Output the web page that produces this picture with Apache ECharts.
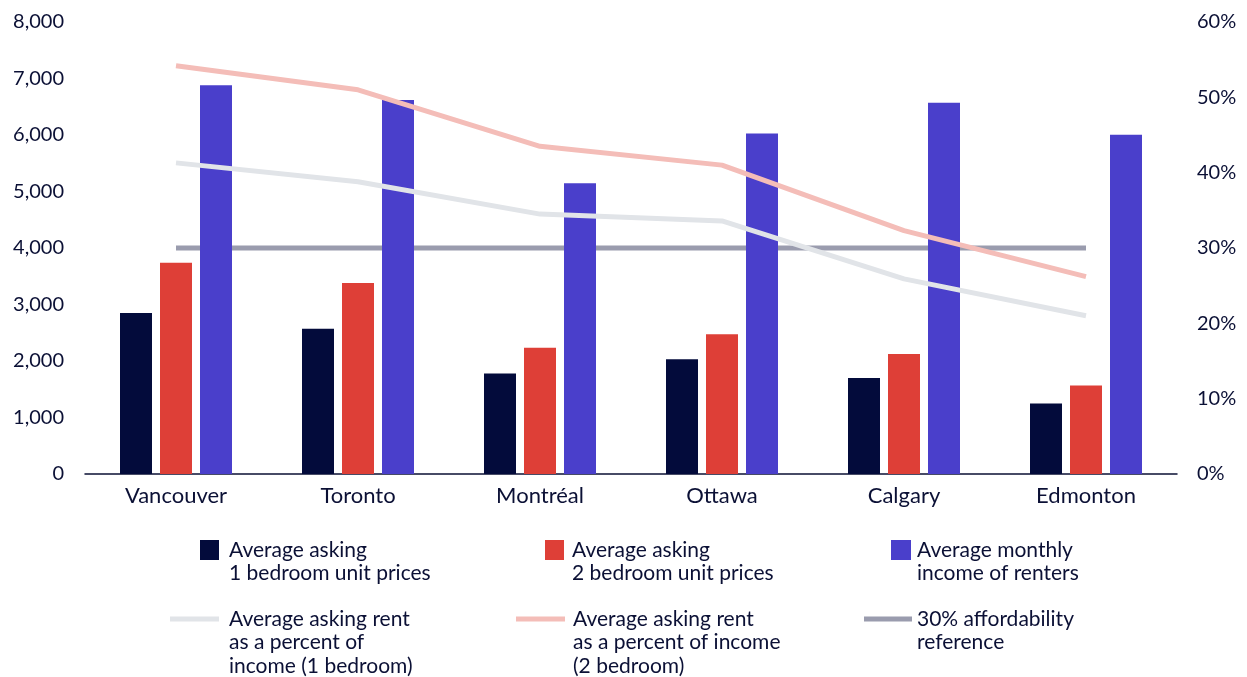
<!DOCTYPE html>
<html>
<head>
<meta charset="utf-8">
<script src="https://cdn.jsdelivr.net/npm/echarts@6/dist/echarts.min.js"></script>
<style>
  html, body { margin: 0; padding: 0; background: #fff; }
  #main { width: 1247px; height: 677px; }
</style>
</head>
<body>
<div id="main"></div>
<script>
var cities = ['Vancouver', 'Toronto', 'Montréal', 'Ottawa', 'Calgary', 'Edmonton'];
var oneBedPrice = [2850, 2570, 1780, 2030, 1700, 1250];
var twoBedPrice = [3740, 3380, 2235, 2475, 2125, 1565];
var renterIncome = [6880, 6620, 5145, 6025, 6570, 6005];
var oneBedPct = [41.3, 38.8, 34.5, 33.6, 25.9, 21.0];
var twoBedPct = [54.2, 51.0, 43.5, 41.0, 32.3, 26.2];
var refPct = [30, 30, 30, 30, 30, 30];

var names = [
    'Average asking\n1 bedroom unit prices',
    'Average asking\n2 bedroom unit prices',
    'Average monthly\nincome of renters',
    'Average asking rent\nas a percent of\nincome (1 bedroom)',
    'Average asking rent\nas a percent of income\n(2 bedroom)',
    '30% affordability\nreference'
];

var textColor = '#0b1035';
var font = 'Lato, "Open Sans", sans-serif';
var lh = 23.5;

// one legend per item so they sit in a 3x2 block like the original.
// blank lines are put in front so the icon lines up with the first text line
function legendFor(name, left, iconCenterY, iconW, iconH, gap) {
    var n = name.split('\n').length;
    var boxH = (2 * n - 1) * lh;
    return {
        data: [name],
        left: left,
        top: iconCenterY - boxH / 2,
        padding: 0,
        icon: 'rect',
        itemWidth: iconW,
        itemHeight: iconH,
        itemGap: 0,
        selectedMode: false,
        formatter: function (s) {
            var pre = '';
            for (var i = 1; i < n; i++) pre += ' \n';
            return pre + s;
        },
        textStyle: {
            color: textColor,
            fontFamily: font,
            fontSize: 21,
            lineHeight: lh,
            padding: [0, 0, 0, gap - 5]
        }
    };
}

var option = {
    animation: false,
    textStyle: { fontFamily: font },
    grid: { left: 85, right: 70, top: 22, bottom: 203 },
    legend: [
        legendFor(names[0], 200, 550, 19, 20, 10),
        legendFor(names[1], 545, 550, 19, 20, 8),
        legendFor(names[2], 891, 550, 20, 20, 6),
        legendFor(names[3], 170, 619, 49, 5, 10),
        legendFor(names[4], 516, 619, 49, 5, 8),
        legendFor(names[5], 864, 619, 48, 5, 5)
    ],
    xAxis: {
        type: 'category',
        data: cities,
        axisTick: { show: false },
        axisLine: { lineStyle: { color: textColor, width: 1.5 } },
        axisLabel: { color: textColor, fontSize: 22, margin: 11 }
    },
    yAxis: [{
        type: 'value',
        min: 0,
        max: 8000,
        interval: 1000,
        splitLine: { show: false },
        axisLabel: {
            color: textColor,
            fontSize: 20,
            margin: 21,
            formatter: function (v) { return v.toLocaleString('en-US'); }
        }
    }, {
        type: 'value',
        min: 0,
        max: 60,
        interval: 10,
        splitLine: { show: false },
        axisLabel: { color: textColor, fontSize: 20, margin: 20, formatter: '{value}%' }
    }],
    series: [{
        name: names[0],
        type: 'bar',
        data: oneBedPrice,
        barWidth: 32,
        barGap: '25%',
        itemStyle: { color: '#030b3b' }
    }, {
        name: names[1],
        type: 'bar',
        data: twoBedPrice,
        barWidth: 32,
        barGap: '25%',
        itemStyle: { color: '#de3f37' }
    }, {
        name: names[2],
        type: 'bar',
        data: renterIncome,
        barWidth: 32,
        barGap: '25%',
        itemStyle: { color: '#4a3fcb' }
    }, {
        name: names[3],
        type: 'line',
        yAxisIndex: 1,
        data: oneBedPct,
        showSymbol: false,
        itemStyle: { color: '#e1e4e8' },
        lineStyle: { color: '#e1e4e8', width: 5 }
    }, {
        name: names[4],
        type: 'line',
        yAxisIndex: 1,
        data: twoBedPct,
        showSymbol: false,
        itemStyle: { color: '#f4bdb8' },
        lineStyle: { color: '#f4bdb8', width: 5 }
    }, {
        name: names[5],
        type: 'line',
        yAxisIndex: 1,
        data: refPct,
        showSymbol: false,
        z: 1,
        itemStyle: { color: '#9a9cae' },
        lineStyle: { color: '#9a9cae', width: 5 }
    }]
};

var chart = echarts.init(document.getElementById('main'));
chart.setOption(option);
</script>
</body>
</html>
